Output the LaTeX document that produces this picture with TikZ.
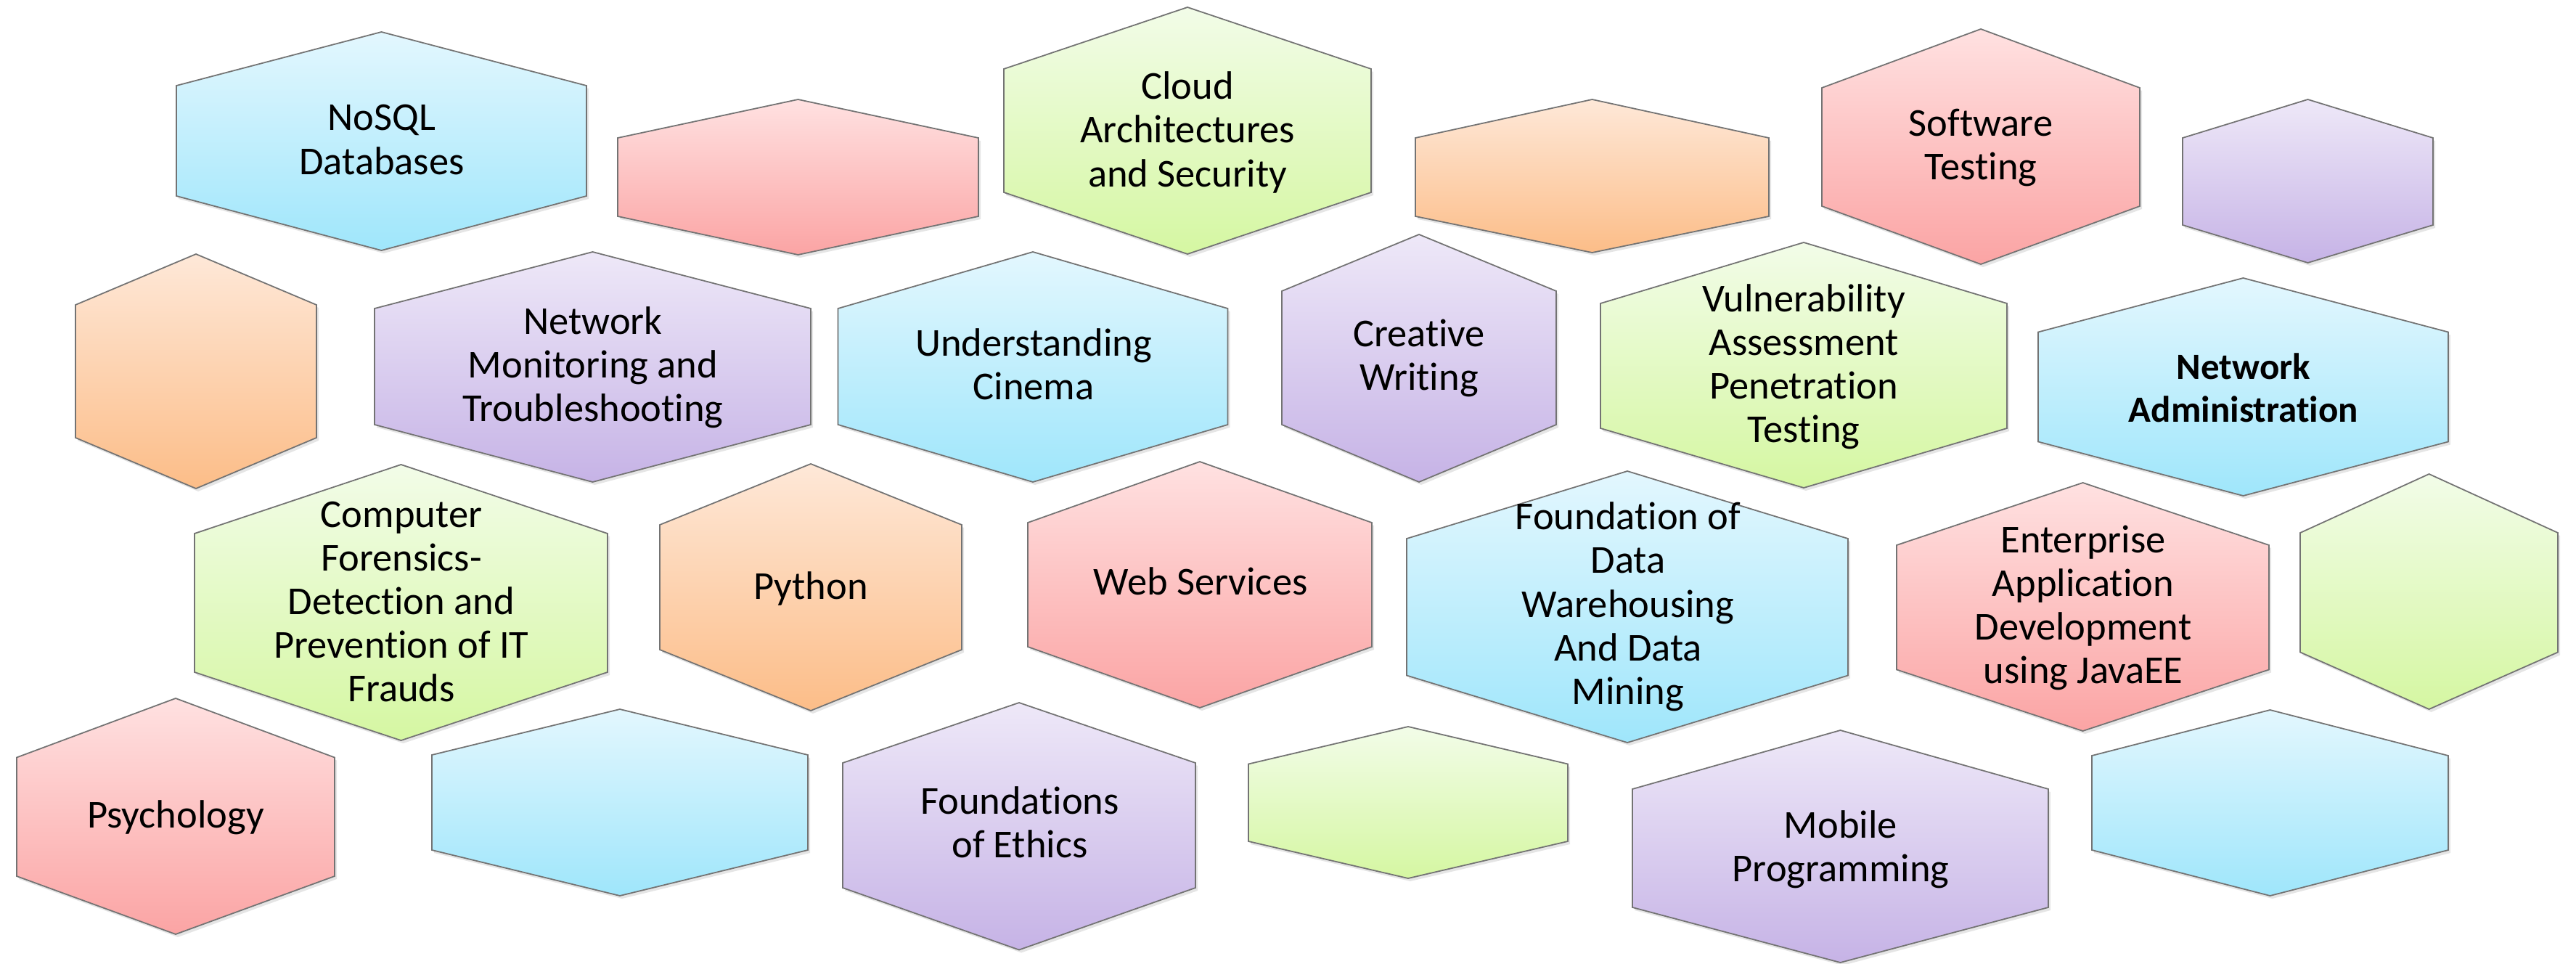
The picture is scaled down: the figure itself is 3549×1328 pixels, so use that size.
\documentclass[tikz,border=0pt]{standalone}
\usepackage{fontspec}
\setmainfont{Carlito}[Ligatures={NoCommon}]
\usepackage{xcolor}
\usetikzlibrary{shadows}

\definecolor{cellblueA}{HTML}{E3F7FE}
\definecolor{cellblueB}{HTML}{9FE6FB}
\definecolor{cellredA}{HTML}{FFE1E1}
\definecolor{cellredB}{HTML}{FBA4A4}
\definecolor{cellgreenA}{HTML}{F2FCE8}
\definecolor{cellgreenB}{HTML}{D5F7A2}
\definecolor{cellorangeA}{HTML}{FEE8D8}
\definecolor{cellorangeB}{HTML}{FCBD88}
\definecolor{cellpurpleA}{HTML}{EEE8F8}
\definecolor{cellpurpleB}{HTML}{C6B3E6}

% hexagon with pointed top: [style]{centre x}{half width}{top}{upper side}{lower side}{bottom}
\newcommand{\hexcell}[7][]{%
  \draw[#1] (#2,#4) -- (#2+#3,#5) -- (#2+#3,#6) -- (#2,#7) -- (#2-#3,#6) -- (#2-#3,#5) -- cycle;}
\newcommand{\celllines}[1]{\begin{tabular}{@{}c@{}}#1\end{tabular}}

\begin{document}
\begin{tikzpicture}[
    x=0.01cm, y=-0.01cm,
    cell/.style={draw=black!55, line width=0.5pt, drop shadow={opacity=0.2, shadow xshift=0.03cm, shadow yshift=-0.04cm}},
    bluecell/.style={cell, top color=cellblueA, bottom color=cellblueB},
    redcell/.style={cell, top color=cellredA, bottom color=cellredB},
    greencell/.style={cell, top color=cellgreenA, bottom color=cellgreenB},
    orangecell/.style={cell, top color=cellorangeA, bottom color=cellorangeB},
    purplecell/.style={cell, top color=cellpurpleA, bottom color=cellpurpleB},
    celltext/.style={inner sep=0pt, font=\fontsize{15.5}{17.07}\selectfont}
]
    \path[use as bounding box, fill=white] (0,0) rectangle (3549,1328);

    % first row
    \hexcell[bluecell]{525.5}{282.5}{44}{118}{270}{345}
    \hexcell[redcell]{1099.5}{248.5}{137}{190}{298}{351}
    \hexcell[greencell]{1636}{253}{10}{95}{265}{350}
    \hexcell[orangecell]{2193.5}{243.5}{137}{190}{298}{348}
    \hexcell[redcell]{2729}{219}{40}{121}{284}{364}
    \hexcell[purplecell]{3179.5}{172.5}{137}{190}{310}{362}

    % second row
    \hexcell[orangecell]{270}{166}{350}{420}{603}{673}
    \hexcell[purplecell]{816.5}{300.5}{347}{425}{585}{664}
    \hexcell[bluecell]{1423}{268.5}{347}{425}{585}{664}
    \hexcell[purplecell]{1955}{189}{323}{401}{585}{664}
    \hexcell[greencell]{2485}{280}{334}{418}{590}{672}
    \hexcell[bluecell]{3090.5}{282.5}{383}{457.5}{608.5}{683}

    % third row
    \hexcell[greencell]{552.5}{284.5}{640}{735}{926}{1020}
    \hexcell[orangecell]{1117}{208}{639}{723}{895}{979}
    \hexcell[redcell]{1653}{237}{636}{720}{891}{975}
    \hexcell[bluecell]{2242}{304}{649}{742}{930.5}{1023}
    \hexcell[redcell]{2869.5}{256.5}{665}{751}{922.5}{1007}
    \hexcell[greencell]{3346.5}{177.5}{653}{734}{898.5}{977}

    % fourth row
    \hexcell[redcell]{242}{219}{962}{1043.5}{1207}{1287}
    \hexcell[bluecell]{854}{259}{977}{1040}{1171}{1234}
    \hexcell[purplecell]{1404}{243}{968}{1051}{1223}{1308.5}
    \hexcell[greencell]{1940}{220}{1001}{1052.5}{1159}{1210}
    \hexcell[purplecell]{2535.5}{286.5}{1006}{1087}{1250}{1326}
    \hexcell[bluecell]{3127.5}{245.5}{978}{1041}{1171}{1234}

    % course names
    \node[celltext] (nosql) at (526,198) {\celllines{NoSQL\\Databases}};
    \node[celltext] (cloud) at (1636,185) {\celllines{Cloud\\Architectures\\and Security}};
    \node[celltext] (softtest) at (2729,205.5) {\celllines{Software\\Testing}};
    \node[celltext] (netmon) at (817,508.5) {\celllines{Network\\Monitoring and\\Troubleshooting}};
    \node[celltext] (cinema) at (1424,508.5) {\celllines{Understanding\\Cinema}};
    \node[celltext] (writing) at (1955,495.5) {\celllines{Creative\\Writing}};
    \node[celltext] (vapt) at (2485,507.5) {\celllines{Vulnerability\\Assessment\\Penetration\\Testing}};
    \node[celltext, font=\bfseries\fontsize{14.5}{16.8}\selectfont] (netadmin) at (3091,540.5) {\celllines{Network\\Administration}};
    \node[celltext] (forensics) at (553,834.5) {\celllines{Computer\\Forensics-\\Detection and\\Prevention of IT\\Frauds}};
    \node[celltext] (python) at (1117,813.5) {\celllines{Python}};
    \node[celltext] (websvc) at (1654,807.5) {\celllines{Web Services}};
    \node[celltext] (dwdm) at (2243,838) {\celllines{Foundation of\\Data\\Warehousing\\And Data\\Mining}};
    \node[celltext] (javaee) at (2870,839.5) {\celllines{Enterprise\\Application\\Development\\using JavaEE}};
    \node[celltext] (psych) at (242,1128.5) {\celllines{Psychology}};
    \node[celltext] (ethics) at (1405,1139.5) {\celllines{Foundations\\of Ethics}};
    \node[celltext] (mobile) at (2536,1172.5) {\celllines{Mobile\\Programming}};
\end{tikzpicture}
\end{document}
